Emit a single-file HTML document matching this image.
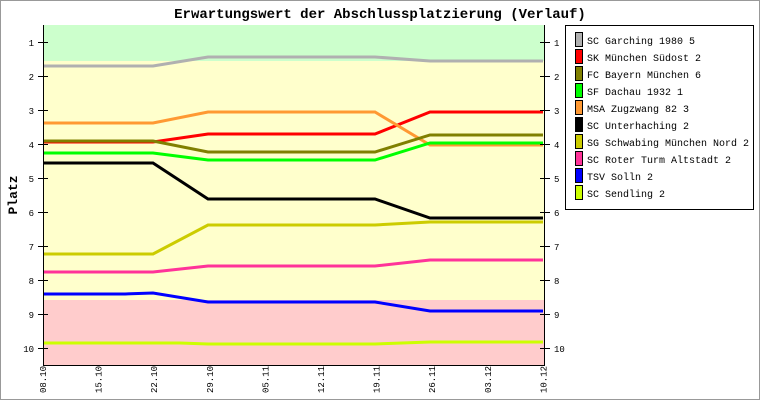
<!DOCTYPE html>
<html><head><meta charset="utf-8"><style>
body{margin:0;background:#fff}
svg text{font-family:"Liberation Mono","DejaVu Sans Mono",monospace;}
</style></head><body>
<svg width="760" height="400" viewBox="0 0 760 400" xmlns="http://www.w3.org/2000/svg">
<rect x="0.5" y="0.5" width="759" height="399" fill="#fff" stroke="#999"/>
<text x="380" y="18" text-anchor="middle" font-size="14" font-weight="bold">Erwartungswert der Abschlussplatzierung (Verlauf)</text>
<rect x="43" y="25" width="501" height="36" fill="#ccffcc"/>
<rect x="43" y="61" width="501" height="239" fill="#ffffcc"/>
<rect x="43" y="300" width="501" height="65" fill="#ffcccc"/>
<g fill="none" stroke-width="3">
<polyline stroke="#b0b0b0" points="43,66 153,66 208,57 375,57 430,61 543,61"/>
<polyline stroke="#ff0000" points="43,142 153,142 208,134 375,134 430,112 543,112"/>
<polyline stroke="#ff9933" points="43,123 153,123 208,112 375,112 430,145 543,145"/>
<polyline stroke="#808000" points="43,141 153,141 208,152 375,152 430,135 543,135"/>
<polyline stroke="#00ff00" points="43,153 153,153 208,160 375,160 430,143 543,143"/>
<polyline stroke="#000000" points="43,163 153,163 208,199 375,199 430,218 543,218"/>
<polyline stroke="#cccc00" points="43,254 153,254 208,225 375,225 430,222 543,222"/>
<polyline stroke="#ff3399" points="43,272 153,272 208,266 375,266 430,260 543,260"/>
<polyline stroke="#0000ff" points="43,294 125,294 153,293 208,302 375,302 430,311 543,311"/>
<polyline stroke="#ccff00" points="43,343 180,343 208,344 375,344 430,342 543,342"/>
</g>
<g stroke="#000" stroke-width="1">
<line x1="43.5" y1="25" x2="43.5" y2="365"/>
<line x1="544.5" y1="25" x2="544.5" y2="365"/>
<line x1="43" y1="365.5" x2="545" y2="365.5"/>
</g>
<g font-size="9" id="yt"></g>
<g font-size="9" id="xt"></g>
<text transform="translate(17,195) rotate(-90)" text-anchor="middle" font-size="13" font-weight="bold">Platz</text>
<rect x="565.5" y="25.5" width="188" height="184" fill="#fff" stroke="#000"/>
<g id="lg" font-size="10"></g>
<script>
var ns="http://www.w3.org/2000/svg";
function el(t,a,txt){var e=document.createElementNS(ns,t);for(var k in a)e.setAttribute(k,a[k]);if(txt)e.textContent=txt;return e;}
var yt=document.getElementById('yt');
for(var r=1;r<=10;r++){var y=42+34*(r-1);
yt.appendChild(el('line',{x1:38,y1:y+.5,x2:48,y2:y+.5,stroke:'#000'}));
yt.appendChild(el('line',{x1:540,y1:y+.5,x2:550,y2:y+.5,stroke:'#000'}));
yt.appendChild(el('text',{x:34,y:y+4,'text-anchor':'end'},''+r));
yt.appendChild(el('text',{x:554,y:y+4},''+r));}
var d=['08.10','15.10','22.10','29.10','05.11','12.11','19.11','26.11','03.12','10.12'];
var xt=document.getElementById('xt');
for(var i=0;i<10;i++){var x=43+55.6*i;
xt.appendChild(el('text',{transform:'translate('+(x+3)+',393) rotate(-90)'},d[i]));}
var L=[['#b0b0b0','SC Garching 1980 5'],['#ff0000','SK München Südost 2'],['#808000','FC Bayern München 6'],['#00ff00','SF Dachau 1932 1'],['#ff9933','MSA Zugzwang 82 3'],['#000000','SC Unterhaching 2'],['#cccc00','SG Schwabing München Nord 2'],['#ff3399','SC Roter Turm Altstadt 2'],['#0000ff','TSV Solln 2'],['#ccff00','SC Sendling 2']];
var lg=document.getElementById('lg');
for(var i=0;i<10;i++){var y=40+17*i;
lg.appendChild(el('rect',{x:575.5,y:y-7.5,width:7,height:14,fill:L[i][0],stroke:'#000'}));
lg.appendChild(el('text',{x:587,y:y+4},L[i][1]));}
</script>
</svg>
</body></html>
